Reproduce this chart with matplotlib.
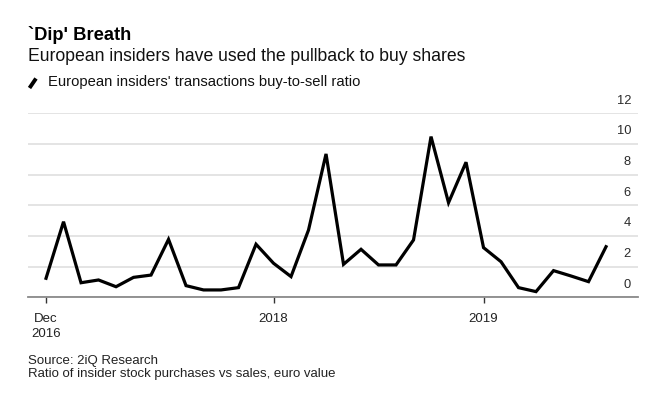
import matplotlib
matplotlib.use("Agg")
import matplotlib.pyplot as plt
import matplotlib.transforms as mtransforms
from matplotlib.lines import Line2D

plt.rcParams['font.family'] = ['Liberation Sans', 'DejaVu Sans']

# ---- data ----
months = ['2016-12', '2017-01', '2017-02', '2017-03', '2017-04', '2017-05', '2017-06',
          '2017-07', '2017-08', '2017-09', '2017-10', '2017-11', '2017-12', '2018-01',
          '2018-02', '2018-03', '2018-04', '2018-05', '2018-06', '2018-07', '2018-08',
          '2018-09', '2018-10', '2018-11', '2018-12', '2019-01', '2019-02', '2019-03',
          '2019-04', '2019-05', '2019-06', '2019-07', '2019-08']
ratio = [1.24, 4.93, 0.95, 1.13, 0.69, 1.30, 1.45, 3.78, 0.76, 0.48, 0.48, 0.63,
         3.46, 2.22, 1.35, 4.39, 9.35, 2.15, 3.13, 2.11, 2.11, 3.74, 10.48, 6.17,
         8.81, 3.24, 2.32, 0.63, 0.37, 1.74, 1.39, 1.02, 3.30]
xtick_months = ['2016-12', '2018-01', '2019-01']
xtick_labels = ['Dec\n2016', '2018', '2019']
yticks = [0, 2, 4, 6, 8, 10, 12]

W, H = 657, 394
fig = plt.figure(figsize=(W / 100, H / 100), dpi=100)

def fx(px):
    return px / W

def fy(py):
    return 1 - py / H

x = list(range(len(months)))
ax = fig.add_axes([fx(28), fy(297.3), fx(637.7) - fx(28), fy(113.3) - fy(297.3)])
ax.plot(x, ratio, color='black', lw=2.3, solid_joinstyle='miter', zorder=3)

ax.set_xlim(-1.03, 33.81)
ax.set_ylim(0, 12)
ax.set_yticks(yticks)
ax.yaxis.grid(True, color='#e2e2e2', lw=1.3)
ax.set_axisbelow(True)
ax.tick_params(axis='y', length=0, labelleft=False)
for s in ['top', 'left', 'right']:
    ax.spines[s].set_visible(False)
ax.spines['bottom'].set_color('#8a8a8a')
ax.spines['bottom'].set_linewidth(1.3)
ax.spines['bottom'].set_zorder(4)

ax.set_xticks([months.index(m) for m in xtick_months])
ax.set_xticklabels(xtick_labels, fontsize=9.5, color='#222222', linespacing=1.35)
ax.tick_params(axis='x', length=4, width=1, color='#333333', pad=7, direction='out')

# y labels above gridlines, right-aligned
trans = mtransforms.blended_transform_factory(fig.transFigure, ax.transData) + \
    mtransforms.ScaledTranslation(0, 12.6 / 100, fig.dpi_scale_trans)
for v in yticks:
    ax.text(fx(631), v, str(v), transform=trans, ha='right', va='center',
            fontsize=9.3, color='#2a2a2a')

# titles
fig.text(fx(28), fy(40), "`Dip' Breath", fontsize=13.2, fontweight='bold',
         va='baseline', ha='left', color='black')
fig.text(fx(28), fy(61), "European insiders have used the pullback to buy shares",
         fontsize=12.7, va='baseline', ha='left', color='#111111')

# legend
fig.add_artist(Line2D([fx(29.5), fx(36)], [fy(88), fy(78.5)], transform=fig.transFigure,
                      color='black', lw=2.8, solid_capstyle='butt'))
fig.text(fx(47.5), fy(86.3), "European insiders' transactions buy-to-sell ratio",
         fontsize=10.6, va='baseline', ha='left', color='#111111')

# source
fig.text(fx(28), fy(364), "Source: 2iQ Research", fontsize=9.5, va='baseline',
         ha='left', color='#222222')
fig.text(fx(28), fy(377), "Ratio of insider stock purchases vs sales, euro value",
         fontsize=9.5, va='baseline', ha='left', color='#222222')

fig.savefig('out.png', dpi=100)
